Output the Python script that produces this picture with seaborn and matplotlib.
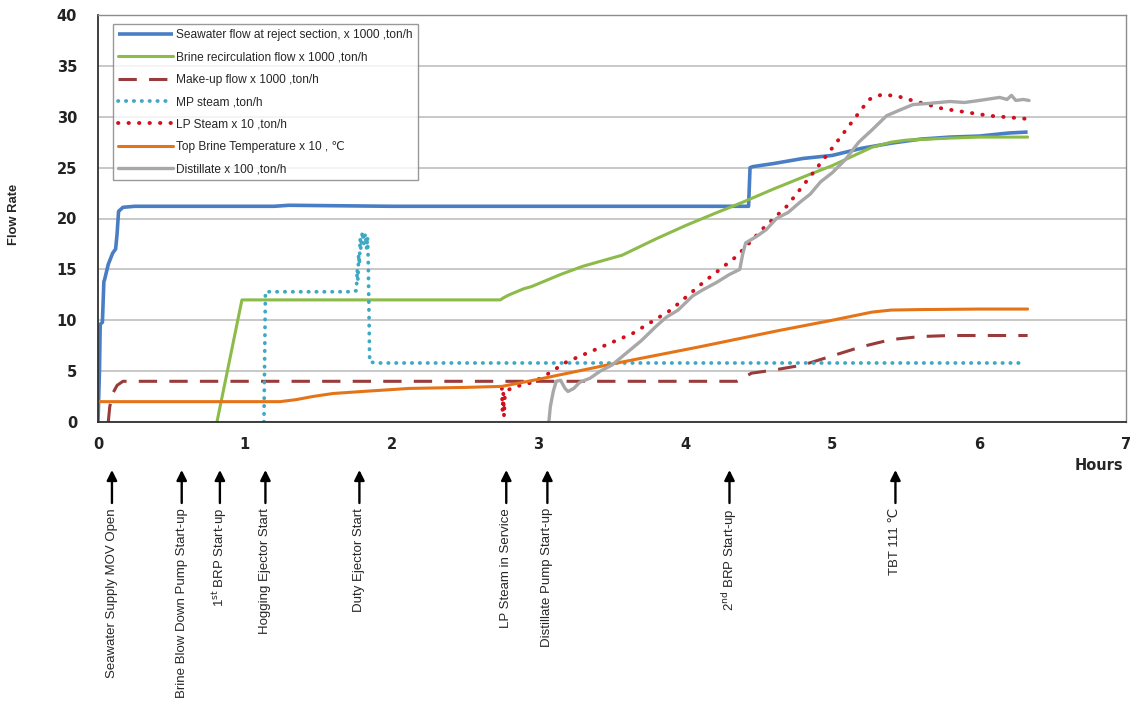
import matplotlib
matplotlib.use("Agg")
import matplotlib.pyplot as plt
import matplotlib.transforms as mtransforms
import seaborn as sns
import numpy as np

sns.set_style("white")
plt.rcParams['font.family'] = ['Liberation Sans', 'DejaVu Sans']

# ---------------- data (hours, value) ----------------
sw_t = [0.0, 0.01, 0.015, 0.03, 0.04, 0.045, 0.07, 0.10, 0.12, 0.13, 0.14, 0.17, 0.25, 0.5, 1.0, 1.2, 1.3, 2.0,
        3.0, 4.0, 4.43, 4.44, 4.46, 4.6, 4.8, 5.0, 5.2, 5.4, 5.6, 5.8, 6.0, 6.2, 6.33]
sw_v = [0, 5, 9.6, 9.8, 13.8, 14.0, 15.5, 16.6, 17.0, 18.5, 20.7, 21.1, 21.2, 21.2, 21.2, 21.2, 21.3, 21.2,
        21.2, 21.2, 21.2, 25.0, 25.1, 25.4, 25.9, 26.2, 26.9, 27.4, 27.8, 28.0, 28.1, 28.4, 28.5]

br_t = [0.81, 0.98, 1.5, 2.0, 2.5, 2.74, 2.76, 2.8, 2.85, 2.9, 2.95, 3.0, 3.15, 3.3, 3.57, 3.8, 4.0, 4.2, 4.39,
        4.6, 4.84, 5.0, 5.15, 5.27, 5.4, 5.5, 5.8, 6.0, 6.33]
br_v = [0, 12, 12, 12, 12, 12, 12.2, 12.5, 12.8, 13.1, 13.3, 13.6, 14.5, 15.3, 16.4, 18.0, 19.3, 20.5, 21.6,
        22.9, 24.3, 25.2, 26.2, 27.0, 27.5, 27.7, 27.9, 28.0, 28.0]

mu_t = [0.07, 0.08, 0.1, 0.13, 0.17, 0.3, 1.0, 2.0, 3.0, 4.0, 4.35, 4.45, 4.6, 4.8, 5.0, 5.2, 5.4, 5.6, 5.8, 6.0, 6.33]
mu_v = [0, 1.5, 2.8, 3.6, 4.0, 4.0, 4.0, 4.0, 4.0, 4.0, 4.0, 4.8, 5.1, 5.6, 6.5, 7.4, 8.1, 8.4, 8.5, 8.5, 8.5]

mp_t = [1.13, 1.14, 1.3, 1.5, 1.7, 1.76, 1.765, 1.77, 1.775, 1.78, 1.785, 1.79, 1.80, 1.81, 1.82, 1.83, 1.835,
        1.84, 1.85, 1.9, 3.0, 4.0, 5.0, 6.0, 6.29]
mp_v = [0, 12.8, 12.8, 12.8, 12.8, 12.9, 15.0, 14.0, 16.5, 15.5, 18.0, 17.0, 18.7, 17.5, 18.5, 17.0, 18.2,
        16.0, 5.9, 5.8, 5.8, 5.8, 5.8, 5.8, 5.8]

lp_t = [2.75, 2.755, 2.76, 2.765, 2.77, 2.78, 2.80, 2.85, 2.96, 3.05, 3.19, 3.4, 3.64, 3.9, 4.12, 4.35, 4.52,
        4.69, 4.87, 5.03, 5.14, 5.25, 5.34, 5.45, 5.52, 5.75, 6.07, 6.32]
lp_v = [3.3, 1.0, 2.8, 0.5, 2.5, 3.0, 3.2, 3.5, 3.9, 4.6, 5.9, 7.2, 8.7, 11.0, 13.7, 16.3, 18.9,
        21.2, 24.5, 27.5, 29.6, 31.7, 32.2, 32.0, 31.7, 30.8, 30.1, 29.8]

tb_t = [0, 0.5, 1.0, 1.24, 1.35, 1.46, 1.6, 1.8, 2.12, 2.5, 2.75, 3.0, 3.5, 4.1, 4.64, 5.0, 5.27, 5.4, 5.6,
        6.0, 6.33]
tb_v = [2.0, 2.0, 2.0, 2.0, 2.2, 2.5, 2.8, 3.0, 3.3, 3.4, 3.5, 4.2, 5.7, 7.4, 9.0, 10.0, 10.8, 11.0, 11.05,
        11.1, 11.1]

ds_t = [3.07, 3.08, 3.10, 3.12, 3.15, 3.18, 3.2, 3.24, 3.28, 3.35, 3.42, 3.5, 3.6, 3.7, 3.8, 3.87, 3.95, 4.05,
        4.12, 4.21, 4.3, 4.37, 4.39, 4.41, 4.48, 4.55, 4.62, 4.7, 4.78, 4.85, 4.92, 5.0, 5.09, 5.18, 5.27,
        5.37, 5.45, 5.55, 5.65, 5.8, 5.9, 6.0, 6.14, 6.19, 6.22, 6.25, 6.3, 6.34]
ds_v = [0, 1.5, 3.0, 4.0, 4.1, 3.3, 3.0, 3.3, 3.9, 4.3, 5.0, 5.6, 6.8, 8.0, 9.4, 10.3, 11.0, 12.4,
        13.0, 13.7, 14.5, 15.0, 16.5, 17.6, 18.2, 18.9, 20.0, 20.6, 21.6, 22.4, 23.6, 24.5, 25.8, 27.5, 28.7,
        30.1, 30.6, 31.2, 31.3, 31.5, 31.4, 31.6, 31.9, 31.7, 32.1, 31.6, 31.7, 31.6]

labels = ["Seawater flow at reject section, x 1000 ,ton/h",
          "Brine recirculation flow x 1000 ,ton/h",
          "Make-up flow x 1000 ,ton/h",
          "MP steam ,ton/h",
          "LP Steam x 10 ,ton/h",
          "Top Brine Temperature x 10 , \u2103",
          "Distillate x 100 ,ton/h"]

event_t = [0.095, 0.57, 0.83, 1.14, 1.78, 2.78, 3.06, 4.30, 5.43]
event_lbl = ["Seawater Supply MOV Open", "Brine Blow Down Pump Start-up", "1$^{\\rm st}$ BRP Start-up",
             "Hogging Ejector Start", "Duty Ejector Start", "LP Steam in Service", "Distillate Pump Start-up",
             "2$^{\\rm nd}$ BRP Start-up", "TBT 111 \u2103"]

# ---------------- figure ----------------
fig = plt.figure(figsize=(11.33, 7.02), dpi=100)
ax = fig.add_axes([98 / 1133, 1 - 422 / 702, 1028 / 1133, 407 / 702])

series = [
    (sw_t, sw_v, dict(color="#4A7EC4", lw=2.6, solid_capstyle="butt")),
    (br_t, br_v, dict(color="#8DBB4A", lw=2.2)),
    (mu_t, mu_v, dict(color="#9A3B3B", lw=2.2, dashes=(6, 4))),
    (mp_t, mp_v, dict(color="#3FA8C4", lw=2.7, dashes=(0.1, 2.0), dash_capstyle="round")),
    (lp_t, lp_v, dict(color="#D0101E", lw=2.8, dashes=(0.1, 2.6), dash_capstyle="round")),
    (tb_t, tb_v, dict(color="#E57418", lw=2.2)),
    (ds_t, ds_v, dict(color="#A8A8A8", lw=2.4)),
]
for (t, v, kw), lab in zip(series, labels):
    dashes = kw.pop("dashes", None)
    sns.lineplot(x=t, y=v, estimator=None, sort=False, ax=ax, label=lab, **kw)
    if dashes is not None:
        ax.lines[-1].set_dashes(dashes)

ax.set_xlim(0, 7)
ax.set_ylim(0, 40)
ax.set_yticks(np.arange(0, 41, 5))
ax.set_xticks(np.arange(0, 8, 1))
ax.set_xticks(np.arange(0, 7.01, 0.5), minor=True)
ax.yaxis.grid(True, color="#BFBFBF", lw=1.2)
ax.set_axisbelow(True)
for s in ["top", "right"]:
    ax.spines[s].set_color("#8C8C8C")
    ax.spines[s].set_linewidth(1.0)
for s in ["left", "bottom"]:
    ax.spines[s].set_color("#303030")
    ax.spines[s].set_linewidth(1.3)
ax.tick_params(axis="x", which="both", direction="in", length=5, width=1, color="#303030", pad=11)
ax.tick_params(axis="y", length=0, pad=15)
for lbl in ax.get_xticklabels() + ax.get_yticklabels():
    lbl.set_fontfamily(["DejaVu Sans"])
    lbl.set_fontweight("bold")
    lbl.set_fontsize(10.5)
    lbl.set_color("#222222")
ax.set_xlabel("")
ax.set_ylabel("Flow Rate", fontsize=9.4, fontweight="bold")
ax.yaxis.set_label_coords((20 - 98) / 1028, (422 - 214) / 407)

leg = ax.legend(loc="upper left", bbox_to_anchor=((113 - 98) / 1028, (422 - 24) / 407), borderaxespad=0,
                fontsize=8.6, frameon=True, fancybox=False, edgecolor="#808080", handlelength=4.6,
                handletextpad=0.25, labelspacing=0.86, borderpad=0.45)
leg.get_frame().set_linewidth(1.0)

fig.text(1123 / 1133, 1 - 465 / 702, "Hours", ha="right", va="center", fontsize=10.5, fontweight="bold",
         family=["DejaVu Sans"])

trans = mtransforms.blended_transform_factory(ax.transData, fig.transFigure)
for t, lab in zip(event_t, event_lbl):
    ax.annotate("", xy=(t, 1 - 470 / 702), xytext=(t, 1 - 503 / 702), xycoords=trans, textcoords=trans,
                arrowprops=dict(arrowstyle="-|>", color="black", lw=1.7, mutation_scale=15, shrinkA=0, shrinkB=0),
                annotation_clip=False)
    ax.text(t, 1 - 508 / 702, lab, rotation=90, ha="center", va="top", transform=trans, fontsize=9.5)

fig.savefig("out.png", dpi=100)
